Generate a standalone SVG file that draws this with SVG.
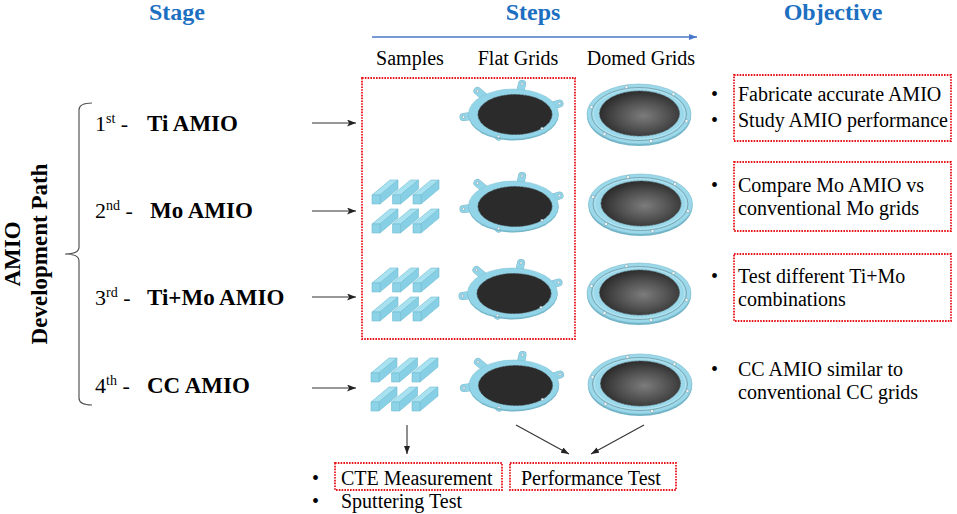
<svg xmlns="http://www.w3.org/2000/svg" width="957" height="514" viewBox="0 0 957 514">
<style>
.t{font-family:"Liberation Serif","Times New Roman",serif;fill:#000}
.h{font-weight:bold;font-size:24px;fill:#1c6fc1;text-anchor:middle}
.sub{font-size:20px}
.obj{font-size:20px}
.stg{font-size:22px}
.b{font-weight:bold;font-size:23px}
.sup{font-size:14px}
.vt{font-weight:bold;font-size:23px;text-anchor:middle}
.red{fill:none;stroke:#e8141c;stroke-width:1.8;stroke-dasharray:1.6 1.2}
.conn{stroke:#333;stroke-width:1.1;fill:none}
.blue{stroke:#4a78c8;stroke-width:1.4;fill:none}
.tabo{stroke:#7fb9ca;stroke-width:8;stroke-linecap:round}
.tabi{stroke:#93d5e8;stroke-width:7;stroke-linecap:round}
.hole{fill:#f2f8fa;stroke:#7a9aa6;stroke-width:0.5}
.front{fill:#8dd3e7;stroke:#72bed4;stroke-width:0.6}
.top{fill:#a8e1f0;stroke:#72bed4;stroke-width:0.6}
.side{fill:#86cfe4;stroke:#72bed4;stroke-width:0.6}
</style>
<defs>
<marker id="ah" markerUnits="userSpaceOnUse" markerWidth="10" markerHeight="8" refX="9" refY="3.5" orient="auto">
<path d="M0,0 L9,3.5 L0,7 L2.2,3.5 z" fill="#222"/>
</marker>
<marker id="ahs" markerUnits="userSpaceOnUse" markerWidth="9" markerHeight="7" refX="8" refY="3" orient="auto">
<path d="M0,0 L8,3 L0,6 z" fill="#222"/>
</marker>
<marker id="ahb" markerUnits="userSpaceOnUse" markerWidth="9" markerHeight="7" refX="8" refY="3" orient="auto">
<path d="M0,0 L8,3 L0,6 z" fill="#4a78c8"/>
</marker>
<radialGradient id="dome" cx="55%" cy="55%" r="60%">
<stop offset="0" stop-color="#7c7c7c"/>
<stop offset="0.55" stop-color="#4e4e4e"/>
<stop offset="1" stop-color="#262626"/>
</radialGradient>
<g id="flat">
<line class="tabo" x1="7" y1="-23" x2="8.5" y2="-30"/>
<line class="tabo" x1="-30" y1="-18" x2="-36" y2="-23"/>
<line class="tabo" x1="-42" y1="2" x2="-50" y2="3"/>
<line class="tabo" x1="-12" y1="18" x2="-15" y2="22.5"/>
<line class="tabo" x1="23" y1="11" x2="28.5" y2="14.5"/>
<line class="tabo" x1="38" y1="-8" x2="46" y2="-10.5"/>
<line class="tabi" x1="7" y1="-23" x2="8.5" y2="-30"/>
<line class="tabi" x1="-30" y1="-18" x2="-36" y2="-23"/>
<line class="tabi" x1="-42" y1="2" x2="-50" y2="3"/>
<line class="tabi" x1="-12" y1="18" x2="-15" y2="22.5"/>
<line class="tabi" x1="23" y1="11" x2="28.5" y2="14.5"/>
<line class="tabi" x1="38" y1="-8" x2="46" y2="-10.5"/>
<ellipse cx="0" cy="1.5" rx="45" ry="25" fill="#74b6c9"/>
<ellipse cx="0" cy="0" rx="45" ry="25" fill="#93d5e8" stroke="#80c0d2" stroke-width="0.5"/>
<ellipse cx="1.5" cy="0.5" rx="37" ry="20" fill="#2b2b2b" stroke="#3a3a3a" stroke-width="1" stroke-dasharray="0.7 0.7"/>
<circle class="hole" cx="8.5" cy="-30" r="1.3"/>
<circle class="hole" cx="-36" cy="-23" r="1.3"/>
<circle class="hole" cx="-50" cy="3" r="1.3"/>
<circle class="hole" cx="-15" cy="22.5" r="1.3"/>
<circle class="hole" cx="28.5" cy="14.5" r="1.3"/>
<circle class="hole" cx="46" cy="-10.5" r="1.3"/>
</g>
<g id="domed">
<ellipse cx="0" cy="2" rx="52" ry="30" fill="#72b4c7"/>
<ellipse cx="0" cy="0" rx="52" ry="30" fill="#9ad8ea" stroke="#80bdce" stroke-width="0.6"/>
<ellipse cx="0" cy="0" rx="47.5" ry="26.5" fill="none" stroke="#7399a5" stroke-width="0.8"/>
<ellipse cx="0" cy="0" rx="45.8" ry="25.2" fill="none" stroke="#c8ecf5" stroke-width="0.6"/>
<ellipse cx="0.5" cy="-0.5" rx="40" ry="22.5" fill="url(#dome)" stroke="#444" stroke-width="1" stroke-dasharray="0.7 0.7"/>
<circle class="hole" cx="-12.5" cy="-27" r="1.6"/>
<circle class="hole" cx="34.5" cy="-20" r="1.6"/>
<circle class="hole" cx="47.5" cy="7" r="1.6"/>
<circle class="hole" cx="12" cy="27" r="1.6"/>
<circle class="hole" cx="-34.5" cy="20" r="1.6"/>
<circle class="hole" cx="-47.5" cy="-7" r="1.6"/>
</g>
<g id="bar">
<polygon class="top" points="0,-9 8,-9 26,-24 18,-24"/>
<polygon class="side" points="8,-9 8,0 26,-15 26,-24"/>
<polygon class="front" points="0,0 8,0 8,-9 0,-9"/>
</g>
<g id="bars">
<use href="#bar" x="372" y="0"/>
<use href="#bar" x="392.5" y="0"/>
<use href="#bar" x="413" y="0"/>
<use href="#bar" x="372" y="29"/>
<use href="#bar" x="392.5" y="29"/>
<use href="#bar" x="413" y="29"/>
</g>
</defs>

<g id="headers">
<text class="t h" x="177" y="20">Stage</text>
<text class="t h" x="533" y="20">Steps</text>
<text class="t h" x="833" y="20">Objective</text>
<text class="t sub" x="410" y="65" text-anchor="middle">Samples</text>
<text class="t sub" x="518" y="65" text-anchor="middle">Flat Grids</text>
<text class="t sub" x="641" y="65" text-anchor="middle">Domed Grids</text>
</g>

<g id="path-label">
<path d="M92,103 Q79,103 79,110 L79,247 Q79,254 65,254 Q79,254 79,261 L79,398 Q79,405 92,405" fill="none" stroke="#555" stroke-width="1.2"/>
<text class="t vt" transform="translate(20,254) rotate(-90)">AMIO</text>
<text class="t vt" transform="translate(47,254) rotate(-90)">Development Path</text>
</g>

<g id="stage1"><text class="t stg" x="95" y="131">1<tspan class="sup" dy="-8">st</tspan><tspan dy="8"> - </tspan><tspan class="b" x="147">Ti AMIO</tspan></text></g>
<g id="stage2"><text class="t stg" x="95" y="218">2<tspan class="sup" dy="-8">nd</tspan><tspan dy="8"> - </tspan><tspan class="b" x="150">Mo AMIO</tspan></text></g>
<g id="stage3"><text class="t stg" x="95" y="305">3<tspan class="sup" dy="-8">rd</tspan><tspan dy="8"> - </tspan><tspan class="b" x="147">Ti+Mo AMIO</tspan></text></g>
<g id="stage4"><text class="t stg" x="95" y="393">4<tspan class="sup" dy="-8">th</tspan><tspan dy="8"> - </tspan><tspan class="b" x="147">CC AMIO</tspan></text></g>

<g id="steps-box"><rect class="red" x="362" y="78" width="213" height="261"/></g>

<g id="samples">
<use href="#bars" x="0" y="204"/>
<use href="#bars" x="0" y="292"/>
<use href="#bars" x="-1" y="382"/>
</g>

<g id="flat-grids">
<use href="#flat" x="513.5" y="114"/>
<use href="#flat" x="513.5" y="206"/>
<use href="#flat" x="512.5" y="293"/>
<use href="#flat" x="514" y="385"/>
</g>

<g id="domed-grids">
<use href="#domed" x="639" y="114"/>
<use href="#domed" x="640.5" y="204"/>
<use href="#domed" x="639" y="293"/>
<use href="#domed" x="640" y="384"/>
</g>

<g id="objective1">
<rect class="red" x="734" y="75" width="217" height="66"/>
<text class="t obj" x="711" y="101">•</text>
<text class="t obj" x="738" y="101">Fabricate accurate AMIO</text>
<text class="t obj" x="711" y="127">•</text>
<text class="t obj" x="738" y="127">Study AMIO performance</text>
</g>
<g id="objective2">
<rect class="red" x="734" y="162" width="217" height="69"/>
<text class="t obj" x="711" y="192">•</text>
<text class="t obj" x="738" y="192">Compare Mo AMIO vs</text>
<text class="t obj" x="738" y="215">conventional Mo grids</text>
</g>
<g id="objective3">
<rect class="red" x="734" y="254" width="217" height="67"/>
<text class="t obj" x="711" y="283">•</text>
<text class="t obj" x="738" y="283">Test different Ti+Mo</text>
<text class="t obj" x="738" y="306">combinations</text>
</g>
<g id="objective4">
<text class="t obj" x="711" y="376">•</text>
<text class="t obj" x="738" y="376">CC AMIO similar to</text>
<text class="t obj" x="738" y="399">conventional CC grids</text>
</g>

<g id="tests">
<rect class="red" x="335" y="463" width="167" height="27"/>
<rect class="red" x="510" y="463" width="166" height="27"/>
<text class="t obj" x="312" y="485">•</text>
<text class="t obj" x="341" y="485">CTE Measurement</text>
<text class="t obj" x="521" y="485">Performance Test</text>
<text class="t obj" x="312" y="508">•</text>
<text class="t obj" x="341" y="508">Sputtering Test</text>
</g>

<g id="connectors">
<line class="blue" x1="372" y1="37" x2="697" y2="37" marker-end="url(#ahb)"/>
<line class="conn" x1="312" y1="123" x2="356" y2="123" marker-end="url(#ah)"/>
<line class="conn" x1="312" y1="211" x2="356" y2="211" marker-end="url(#ah)"/>
<line class="conn" x1="312" y1="297" x2="356" y2="297" marker-end="url(#ah)"/>
<line class="conn" x1="312" y1="388" x2="356" y2="388" marker-end="url(#ah)"/>
<line class="conn" x1="407" y1="425" x2="407" y2="454" marker-end="url(#ahs)"/>
<line class="conn" x1="516" y1="425" x2="569" y2="454" marker-end="url(#ahs)"/>
<line class="conn" x1="644" y1="425" x2="591" y2="454" marker-end="url(#ahs)"/>
</g>
</svg>
